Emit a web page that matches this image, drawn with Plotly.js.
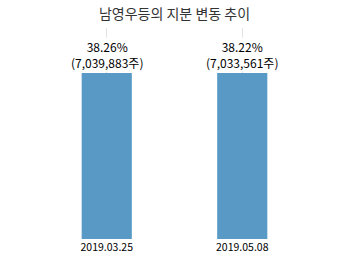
<!DOCTYPE html>
<html><head><meta charset="utf-8">
<script src="https://cdn.plot.ly/plotly-3.0.1.min.js"></script>
<style>html,body{margin:0;padding:0;background:#fff}#chart{width:349px;height:260px}</style>
</head><body><div id="chart"></div>
<script>
const categories = ["2019.03.25", "2019.05.08"];
const percents = [38.26, 38.22];
const shares = ["7,039,883", "7,033,561"];

const font = "Noto Sans CJK KR, Noto Sans, sans-serif";
const annotations = categories.map((c, i) => ({
  x: c, y: percents[i], xref: "x", yref: "y",
  text: percents[i].toFixed(2) + "%<br>(" + shares[i] + "주)",
  showarrow: false, yanchor: "bottom", yshift: 1,
  bgcolor: "#ffffff", borderpad: 0,
  font: {family: font, size: 12, color: "#000"}
}));

Plotly.newPlot("chart", [{
  type: "bar", x: categories, y: percents,
  marker: {color: "#5899c6"},
  hoverinfo: "skip"
}], {
  width: 349, height: 260,
  margin: {l: 39, r: 39, t: 28, b: 21},
  paper_bgcolor: "#fff", plot_bgcolor: "#fff",
  bargap: 0.63,
  title: {text: "남영우등의 지분 변동 추이", x: 0.5, xanchor: "center", xref: "paper",
          y: 0.945, yanchor: "middle", yref: "container",
          font: {family: font, size: 14, color: "#333"}},
  xaxis: {type: "category", showgrid: true, gridcolor: "#e2e2e2", gridwidth: 1,
          showline: false, zeroline: false, ticks: "", ticklen: 0,
          tickfont: {family: font, size: 10.5, color: "#000"}},
  yaxis: {range: [0, 48.6], visible: false, showgrid: false, zeroline: false},
  annotations: annotations,
  showlegend: false
}, {displayModeBar: false, staticPlot: true});
</script></body></html>
